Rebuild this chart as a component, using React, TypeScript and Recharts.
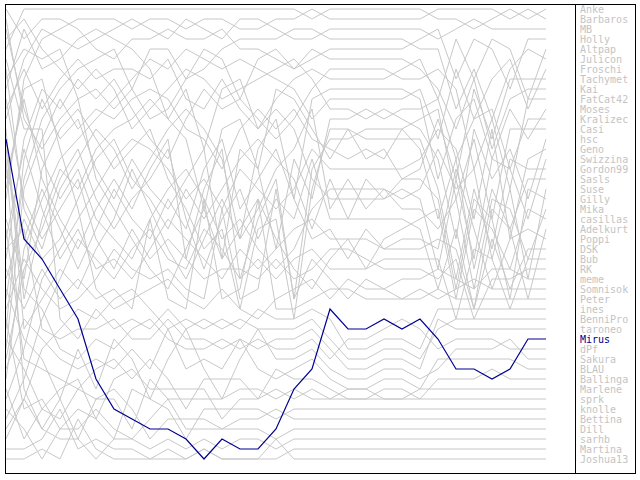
import React from 'react';
import { LineChart, Line, XAxis, YAxis } from 'recharts';

const matchdays = [0,1,2,3,4,5,6,7,8,9,10,11,12,13,14,15,16,17,18,19,20,21,22,23,24,25,26,27,28,29,30];

const anke     = [5,1,1,1,1,1,1,1,1,1,1,1,1,1,1,1,1,2,1,1,1,1,1,1,2,2,3,2,1,2,1];
const barbaros = [20,8,4,3,2,2,2,3,2,2,3,2,2,3,3,2,2,1,2,2,2,2,2,2,1,1,1,1,2,1,2];
const mb       = [12,6,3,4,5,4,3,2,3,4,2,3,4,2,2,3,4,4,3,3,3,3,3,3,4,3,2,3,3,3,3];
const holly    = [30,18,12,9,7,6,5,9,5,5,8,5,6,10,6,5,7,6,5,5,5,5,5,4,3,8,4,5,9,4,4];
const altpap   = [9,3,7,6,4,3,4,5,7,12,9,15,9,8,13,10,8,7,8,8,8,8,7,6,10,4,8,4,5,10,5];
const julicon  = [2,12,15,12,10,9,11,9,12,11,8,7,5,4,4,4,3,3,4,4,4,4,4,5,5,11,7,12,7,5,6];
const froschi  = [38,25,20,16,14,12,10,8,6,7,5,6,7,6,7,8,9,12,10,10,10,10,10,9,14,7,12,8,6,11,7];
const tachymet = [15,30,22,17,19,15,13,12,10,12,14,21,13,12,17,9,10,13,16,13,16,15,18,17,12,18,9,14,8,8,8];
const kai      = [1,4,2,2,3,5,6,4,4,3,4,4,3,5,5,6,7,5,6,6,6,6,6,7,9,13,8,15,10,9,9];
const fatcat42 = [26,14,9,11,8,10,8,11,14,16,12,9,11,10,12,14,12,9,7,7,7,7,8,8,7,9,17,12,19,10,10];
const moses    = [7,21,25,19,16,13,15,19,16,13,11,13,16,24,15,12,20,10,9,9,9,9,9,10,18,12,10,16,11,14,11];
const kralizec = [33,16,10,14,12,17,20,16,19,21,18,15,26,15,17,25,16,20,12,12,11,12,11,11,10,16,12,11,17,12,12];
const casi     = [18,10,18,22,25,21,18,21,17,14,26,19,15,28,22,18,30,17,14,14,13,13,13,12,11,20,14,22,13,13,13];
const hsc      = [4,2,5,7,9,7,9,13,11,9,7,8,10,9,8,7,6,8,11,11,12,11,12,13,16,24,13,18,15,20,14];
const geno     = [40,35,28,25,22,19,16,14,15,17,20,18,21,17,19,21,19,15,17,17,17,17,17,16,13,15,22,13,24,16,15];
const swizzina = [11,7,11,8,6,8,7,7,8,6,10,11,8,11,13,11,13,18,20,20,20,20,19,20,27,18,26,16,17,22,16];
const gordon99 = [22,28,17,13,11,14,17,15,13,18,21,25,23,31,23,22,32,19,13,13,14,14,14,14,19,28,19,25,16,17,17];
const sasls    = [35,19,14,10,13,11,12,10,9,10,13,14,17,13,11,13,11,14,15,16,15,16,13,15,22,16,27,19,23,18,18];
const suse     = [3,11,16,20,17,22,24,26,22,19,17,20,24,22,25,27,25,21,19,19,19,19,20,19,15,19,17,26,19,28,19];
const gilly    = [28,22,26,24,20,16,14,18,20,23,19,22,19,16,14,16,18,23,18,22,18,20,18,18,20,29,20,22,30,19,20];
const mika     = [13,33,30,27,29,25,22,17,21,25,28,24,20,24,21,17,15,11,21,18,21,19,21,21,23,20,29,20,21,26,21];
const casillas = [8,5,6,5,10,18,21,24,27,29,25,21,26,23,20,24,27,29,26,24,27,24,23,22,21,30,21,23,27,21,22];
const adelkurt = [36,27,23,18,15,20,23,20,18,15,22,27,22,19,24,20,22,16,22,22,22,22,22,23,29,23,31,21,23,30,23];
const poppi    = [17,24,19,23,27,23,19,22,24,20,23,17,14,21,18,15,20,24,23,26,23,25,24,24,25,17,23,29,24,23,24];
const dsk      = [24,15,21,26,23,27,26,28,25,22,24,26,28,25,27,25,23,22,24,24,24,25,25,25,24,25,31,24,29,25,25];
const bub      = [42,38,32,28,24,26,28,25,23,26,27,23,25,28,26,28,26,25,27,27,27,26,26,26,26,32,25,26,31,26,26];
const rk       = [10,20,24,21,18,24,27,23,26,24,26,28,27,27,28,26,28,27,25,25,26,27,27,27,28,26,32,28,28,27,27];
const meme     = [31,26,29,31,30,28,25,27,28,27,29,30,21,30,29,19,30,26,28,30,28,29,28,28,27,28,29,27,27,28,28];
const somnisok = [19,9,8,15,21,29,31,30,29,28,30,31,29,31,32,30,29,28,30,28,29,29,30,29,30,29,28,29,29,29,29];
const peter    = [27,31,27,30,28,30,29,31,22,30,31,20,30,29,20,31,31,30,29,29,30,30,30,30,29,30,30,30,30,30,30];
const ines     = [44,40,35,33,31,32,30,29,31,33,32,33,32,33,31,32,32,31,32,35,35,34,34,35,31,31,31,31,31,31,31];
const bennipro = [6,13,13,32,34,31,33,32,33,31,33,32,33,32,33,33,33,32,34,36,36,35,35,36,33,32,32,32,32,32,32];
const taroneo  = [25,23,33,34,33,33,32,34,34,32,34,34,35,34,35,34,34,33,35,37,37,36,36,37,32,33,33,33,33,33,33];
const mirus    = [14,24,26,29,32,38,41,42,43,43,44,46,44,45,45,43,39,37,31,33,33,32,33,32,34,37,37,38,37,34,34];
const dpf      = [14,29,31,35,36,34,35,33,32,34,35,35,34,35,34,35,35,34,36,34,34,33,32,33,35,34,34,34,35,35,35];
const sakura   = [29,34,36,40,35,39,34,36,40,36,33,37,40,36,33,36,36,35,37,38,38,37,37,38,37,35,35,35,34,36,36];
const blau     = [37,32,34,36,37,36,37,35,37,33,37,36,37,34,37,38,37,36,38,39,39,38,38,39,36,36,36,36,36,37,37];
const ballinga = [23,36,37,38,39,37,36,38,36,38,41,38,38,38,40,37,38,38,39,40,40,39,39,40,38,38,38,37,38,38,38];
const marlene  = [34,37,41,39,38,42,38,37,39,39,39,39,42,40,40,39,40,39,40,39,39,40,40,39,39,39,39,39,39,39,39];
const sprk     = [16,39,43,40,44,40,40,43,38,40,40,40,40,39,39,40,39,40,40,40,40,40,40,40,40,40,40,40,40,40,40];
const knolle   = [32,41,40,43,41,42,44,39,40,41,44,41,41,41,41,42,41,41,41,41,41,41,41,41,41,41,41,41,41,41,41];
const bettina  = [39,44,41,42,39,40,39,41,44,42,42,42,43,42,42,41,42,42,42,42,42,42,42,42,42,42,42,42,42,42,42];
const dill     = [41,43,46,43,43,41,43,44,42,40,43,43,43,43,43,44,43,43,43,43,43,43,43,43,43,43,43,43,43,43,43];
const sarhb    = [43,40,43,44,44,46,44,44,45,44,45,44,45,44,44,45,44,44,44,44,44,44,44,44,44,44,44,44,44,44,44];
const martina  = [45,45,44,41,45,44,45,45,46,45,46,45,46,46,46,46,45,45,45,45,45,45,45,45,45,45,45,45,45,45,45];
const joshua13 = [46,46,45,46,42,45,46,46,46,46,46,45,46,46,46,44,46,46,46,46,46,46,46,46,46,46,46,46,46,46,46];

const names = [
  'Anke','Barbaros','MB','Holly','Altpap','Julicon','Froschi','Tachymet','Kai','FatCat42',
  'Moses','Kralizec','Casi','hsc','Geno','Swizzina','Gordon99','Sasls','Suse','Gilly',
  'Mika','casillas','Adelkurt','Poppi','DSK','Bub','RK','meme','Somnisok','Peter',
  'ines','BenniPro','taroneo','Mirus','dPf','Sakura','BLAU','Ballinga','Marlene','sprk',
  'knolle','Bettina','Dill','sarhb','Martina','Joshua13',
];
const series = [
  anke,barbaros,mb,holly,altpap,julicon,froschi,tachymet,kai,fatcat42,
  moses,kralizec,casi,hsc,geno,swizzina,gordon99,sasls,suse,gilly,
  mika,casillas,adelkurt,poppi,dsk,bub,rk,meme,somnisok,peter,
  ines,bennipro,taroneo,mirus,dpf,sakura,blau,ballinga,marlene,sprk,
  knolle,bettina,dill,sarhb,martina,joshua13,
];
const highlight = 'Mirus';

const data = matchdays.map((md, i) => {
  const row: Record<string, number> = { md };
  names.forEach((n, k) => { row[n] = series[k][i]; });
  return row;
});

const GREY = '#c8c8c8';
const BLUE = '#000090';

export default function App() {
  const others = names.filter((n) => n !== highlight);
  return (
    <div style={{ position: 'absolute', left: 0, top: 0, width: 640, height: 480, background: '#fff' }}>
      <LineChart width={640} height={480} data={data} margin={{ top: 4, right: 94, bottom: 16, left: 6 }}>
        <XAxis dataKey="md" type="number" domain={[0, 30]} hide />
        <YAxis type="number" domain={[0.5, 46.5]} reversed hide />
        {others.map((n) => (
          <Line key={n} dataKey={n} type="linear" stroke={GREY} strokeWidth={1} dot={false} activeDot={false} isAnimationActive={false} />
        ))}
        <Line dataKey={highlight} type="linear" stroke={BLUE} strokeWidth={1.2} dot={false} activeDot={false} isAnimationActive={false} />
      </LineChart>
      <div style={{ position: 'absolute', left: 5, top: 4, width: 631, height: 470, border: '1px solid #000', boxSizing: 'border-box', pointerEvents: 'none' }} />
      <div style={{ position: 'absolute', left: 575, top: 4, width: 1, height: 470, background: '#000' }} />
      <div style={{ position: 'absolute', left: 580, top: 5, fontFamily: '"DejaVu Sans Mono", monospace', fontSize: 10, lineHeight: '10px' }}>
        {names.map((n) => (
          <div key={n} style={{ color: n === highlight ? BLUE : '#c4c4c4', whiteSpace: 'nowrap' }}>{n}</div>
        ))}
      </div>
    </div>
  );
}
